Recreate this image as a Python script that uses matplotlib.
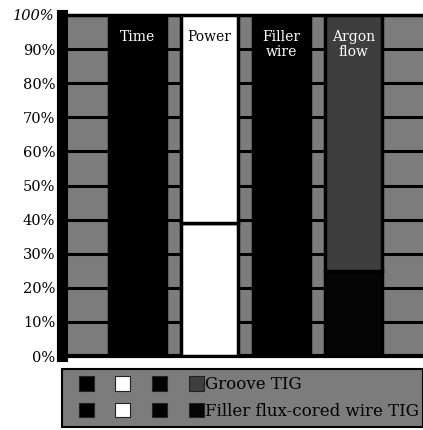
import matplotlib
matplotlib.use("Agg")
import matplotlib.pyplot as plt
from matplotlib.patches import Patch
from matplotlib.legend_handler import HandlerTuple

categories = ["Time", "Power", "Filler\nwire", "Argon\nflow"]
flux_cored = [50, 39, 50, 25]   # bottom segment
groove = [50, 61, 50, 75]       # top segment
groove_colors = ["#000000", "#ffffff", "#000000", "#3e3e3e"]
flux_colors = ["#000000", "#ffffff", "#000000", "#050505"]
label_colors = ["white", "black", "white", "white"]
yticks = [0, 10, 20, 30, 40, 50, 60, 70, 80, 90, 100]
series_names = ["Groove TIG", "Filler flux-cored wire TIG"]

plt.rcParams["font.family"] = ["DejaVu Serif"]


class ShiftedTuple(HandlerTuple):
    # push the row of squares a bit right inside the legend box
    def create_artists(self, legend, orig_handle, xdescent, ydescent, width, height,
                       fontsize, trans):
        return super().create_artists(legend, orig_handle, xdescent - 6.5, ydescent,
                                      width, height, fontsize, trans)


fig = plt.figure(figsize=(4.23, 4.30), dpi=100)
ax = fig.add_axes([62 / 423, 74 / 430, 363 / 423, 341 / 430])
ax.set_facecolor("#7c7c7c")

x = range(len(categories))
ax.bar(x, flux_cored, width=0.79, color=flux_colors, edgecolor="black", linewidth=2.5, zorder=3)
ax.bar(x, groove, width=0.79, bottom=flux_cored, color=groove_colors, edgecolor="black",
       linewidth=2.5, zorder=3)

for i, name in enumerate(categories):
    ax.text(i, 95.5, name, ha="center", va="top", fontsize=10, color=label_colors[i],
            linespacing=1.05, zorder=4)

ax.set_xlim(-1.05, 3.99)
ax.set_ylim(0, 100)
ax.set_yticks(yticks)
ax.set_yticklabels([f"{v}%" for v in yticks], fontsize=10.5)
ax.get_yticklabels()[-1].set_style("italic")
ax.set_xticks([])
ax.tick_params(axis="y", length=0, pad=5)
ax.yaxis.grid(True, color="black", linewidth=2.2)
ax.set_axisbelow(True)

ax.spines["left"].set_linewidth(8)
ax.spines["top"].set_linewidth(2.5)
ax.spines["bottom"].set_linewidth(3)
ax.spines["right"].set_visible(False)
for s in ax.spines.values():
    s.set_color("black")

handles = [
    tuple(Patch(facecolor=c, edgecolor="#222222", linewidth=0.8) for c in groove_colors),
    tuple(Patch(facecolor=c, edgecolor="#222222", linewidth=0.8) for c in flux_colors),
]
leg = fig.legend(handles, series_names,
                 handler_map={tuple: ShiftedTuple(ndivide=None, pad=1.3)},
                 loc="lower left", bbox_to_anchor=(62 / 423, 3 / 430, 361 / 423, 60 / 430),
                 mode="expand", borderaxespad=0, fontsize=12,
                 handlelength=7.5, handleheight=0.95, handletextpad=0.64,
                 labelspacing=0.55, borderpad=0.45, fancybox=False, framealpha=1)
leg.get_frame().set_facecolor("#7c7c7c")
leg.get_frame().set_edgecolor("black")
leg.get_frame().set_linewidth(1.5)

fig.savefig("out.png", dpi=100)
